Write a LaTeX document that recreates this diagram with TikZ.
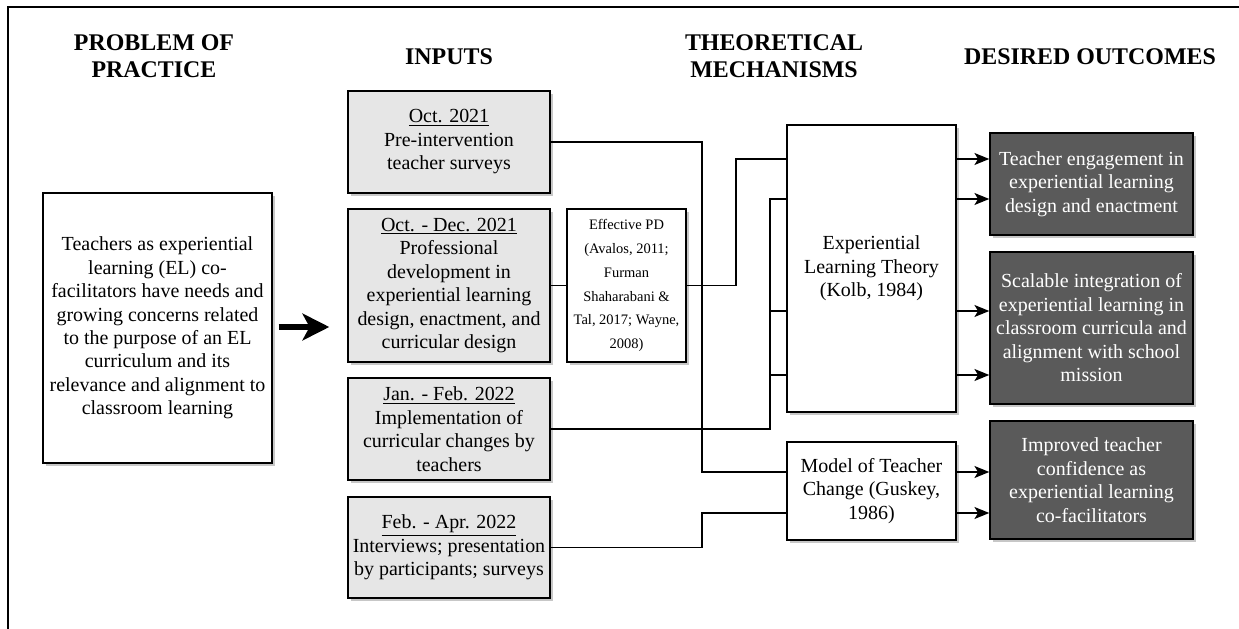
\documentclass[tikz,border=0pt]{standalone}
\usepackage{fontspec}
\setmainfont{Liberation Serif}
\usetikzlibrary{arrows.meta,shadows}
\definecolor{inputgray}{HTML}{E6E6E6}
\definecolor{outgray}{HTML}{5A5A5A}

\begin{document}
\begin{tikzpicture}[
  x=0.025cm, y=-0.025cm,
  base/.style={draw, line width=1pt, align=center, inner sep=2pt,
    font=\fontsize{14.2}{16.7}\selectfont,
    drop shadow={shadow xshift=0.07cm, shadow yshift=-0.07cm, fill=black!22, opacity=1}},
  head/.style={align=center, font=\fontsize{17}{19.2}\selectfont\bfseries},
  probbox/.style={base, fill=white, minimum width=5.725cm, minimum height=6.75cm},
  inbox/.style={base, fill=inputgray, minimum width=5.05cm},
  mechbox/.style={base, fill=white, minimum width=4.225cm},
  outbox/.style={base, fill=outgray, text=white, minimum width=5.075cm},
  link/.style={line width=0.9pt},
  arrow/.style={link, -{Stealth[length=10.5pt,width=8.5pt,inset=2.5pt]}},
  bigarrow/.style={line width=4pt, -{Stealth[length=19pt,width=19pt,inset=5pt]}}
]
\useasboundingbox (0,0) rectangle (1239,629);
\draw[line width=1pt] (8,629) -- (8,7) -- (1239,7);

\node[head] (hprob) at (154,56) {PROBLEM OF\\PRACTICE};
\node[head] (hin) at (449,57) {INPUTS};
\node[head] (hmech) at (774,56) {THEORETICAL\\MECHANISMS};
\node[head] (hout) at (1090,57) {DESIRED OUTCOMES};

\node[probbox] (prob) at (157.5,328) {Teachers as experiential\\learning (EL) co-\\facilitators have needs and\\growing concerns related\\to the purpose of an EL\\curriculum and its\\relevance and alignment to\\classroom learning};

\node[inbox, minimum height=2.55cm] (in1) at (449,142) {\underline{Oct. 2021}\\Pre-intervention\\teacher surveys};
\node[inbox, minimum height=3.825cm] (in2) at (449,285.5) {\underline{Oct. - Dec. 2021}\\Professional\\development in\\experiential learning\\design, enactment, and\\curricular design};
\node[inbox, minimum height=2.55cm] (in3) at (449,429) {\underline{Jan. - Feb. 2022}\\Implementation of\\curricular changes by\\teachers};
\node[inbox, minimum height=2.525cm] (in4) at (449,547.5) {\underline{Feb. - Apr. 2022}\\Interviews; presentation\\by participants; surveys};

\node[base, fill=white, minimum width=2.975cm, minimum height=3.825cm, font=\fontsize{10.3}{17}\selectfont] (pd) at (626.5,285.5) {Effective PD\\(Avalos, 2011;\\Furman\\Shaharabani \&\\Tal, 2017; Wayne,\\2008)};

\node[mechbox, minimum height=7.175cm] (elt) at (871.5,268.5) {Experiential\\Learning Theory\\(Kolb, 1984)};
\node[mechbox, minimum height=2.45cm] (mtc) at (871.5,491) {Model of Teacher\\Change (Guskey,\\1986)};

\node[outbox, minimum height=2.55cm] (o1) at (1091.5,184) {Teacher engagement in\\experiential learning\\design and enactment};
\node[outbox, minimum height=3.8cm] (o2) at (1091.5,328) {Scalable integration of\\experiential learning in\\classroom curricula and\\alignment with school\\mission};
\node[outbox, minimum height=2.95cm] (o3) at (1091.5,480) {Improved teacher\\confidence as\\experiential learning\\co-facilitators};

\coordinate (yA) at (0,159);
\coordinate (yB) at (0,199);
\coordinate (yC) at (0,311);
\coordinate (yD) at (0,375);
\coordinate (yE) at (0,472);
\coordinate (yF) at (0,513);
\coordinate (yP) at (0,327);
\coordinate (busA) at (702,0);
\coordinate (busB) at (736,0);
\coordinate (busC) at (770,0);

\draw[bigarrow, shorten <=0.15cm, shorten >=0.45cm] (prob.east |- yP) -- (in2.west |- yP);

\draw[link] (in1.east) -| (busA |- yE) -- (mtc.west |- yE);
\draw[link] (in2.east) -- (pd.west);
\draw[link] (pd.east) -| (busB |- yA) -- (elt.west |- yA);
\draw[link] (in3.east) -| (busC |- yB) -- (elt.west |- yB);
\draw[link] (busC |- yC) -- (elt.west |- yC);
\draw[link] (busC |- yD) -- (elt.west |- yD);
\draw[link] (in4.east) -| (busA |- yF) -- (mtc.west |- yF);

\foreach \y in {yA,yB} \draw[arrow] (elt.east |- \y) -- (o1.west |- \y);
\foreach \y in {yC,yD} \draw[arrow] (elt.east |- \y) -- (o2.west |- \y);
\foreach \y in {yE,yF} \draw[arrow] (mtc.east |- \y) -- (o3.west |- \y);
\end{tikzpicture}
\end{document}
